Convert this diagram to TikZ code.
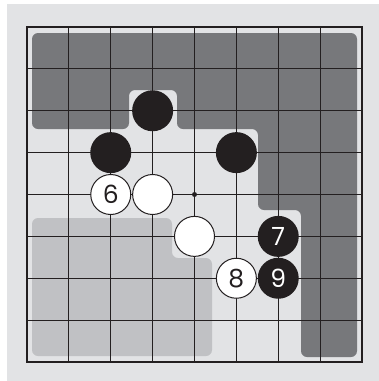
\documentclass[tikz,border=0pt]{standalone}
\usepackage{fontspec}
\setmainfont{Poppins}
\definecolor{bglight}{HTML}{E2E3E5}
\definecolor{regdark}{HTML}{77787B}
\definecolor{regmid}{HTML}{C0C1C4}
\definecolor{stoneblack}{HTML}{231F20}
\begin{document}
\begin{tikzpicture}[x=1pt,y=-1pt,
  gridline/.style={line width=1.1pt, draw=stoneblack},
  boardedge/.style={line width=2.6pt, draw=stoneblack},
  region/.style={rounded corners=6pt},
  bstone/.style={circle, fill=stoneblack, minimum size=41pt, inner sep=0pt, text=white, font=\fontsize{25}{25}\selectfont},
  wstone/.style={circle, fill=white, draw=stoneblack, line width=1pt, minimum size=40pt, inner sep=0pt, text=stoneblack, font=\fontsize{25}{25}\selectfont},
  hoshi/.style={circle, fill=stoneblack, minimum size=5pt, inner sep=0pt}]
\def\g{41.875}
\useasboundingbox (0,0) rectangle (379,381);
\fill[white] (0,0) rectangle (379,381);
\fill[bglight] (7,4) rectangle (379,381);
% territory regions
\fill[regdark, region] (32,33) -- (357,33) -- (357,357) -- (301,357) -- (301,210) -- (258,210) -- (258,129) -- (177,129) -- (177,90) -- (129,90) -- (129,129) -- (32,129) -- cycle;
\fill[regmid, region] (32,218) -- (172,218) -- (172,258) -- (212,258) -- (212,356) -- (32,356) -- cycle;
% grid
\foreach \i in {1,...,7} {
  \draw[gridline] ({27+\g*\i},27) -- ({27+\g*\i},362);
  \draw[gridline] (27,{27+\g*\i}) -- (362,{27+\g*\i});
}
\draw[boardedge] (27,27) rectangle (362,362);
% star point
\node[hoshi] (h) at ({27+\g*4},{27+\g*4}) {};
% stones
\node[bstone] (b1) at ({27+\g*3},{27+\g*2}) {};
\node[bstone] (b2) at ({27+\g*2},{27+\g*3}) {};
\node[bstone] (b3) at ({27+\g*5},{27+\g*3}) {};
\node[wstone] (w6) at ({27+\g*2},{27+\g*4}) {6};
\node[wstone] (w1) at ({27+\g*3},{27+\g*4}) {};
\node[wstone] (w2) at ({27+\g*4},{27+\g*5}) {};
\node[bstone] (b7) at ({27+\g*6},{27+\g*5}) {7};
\node[wstone] (w8) at ({27+\g*5},{27+\g*6}) {8};
\node[bstone] (b9) at ({27+\g*6},{27+\g*6}) {9};
\end{tikzpicture}
\end{document}
